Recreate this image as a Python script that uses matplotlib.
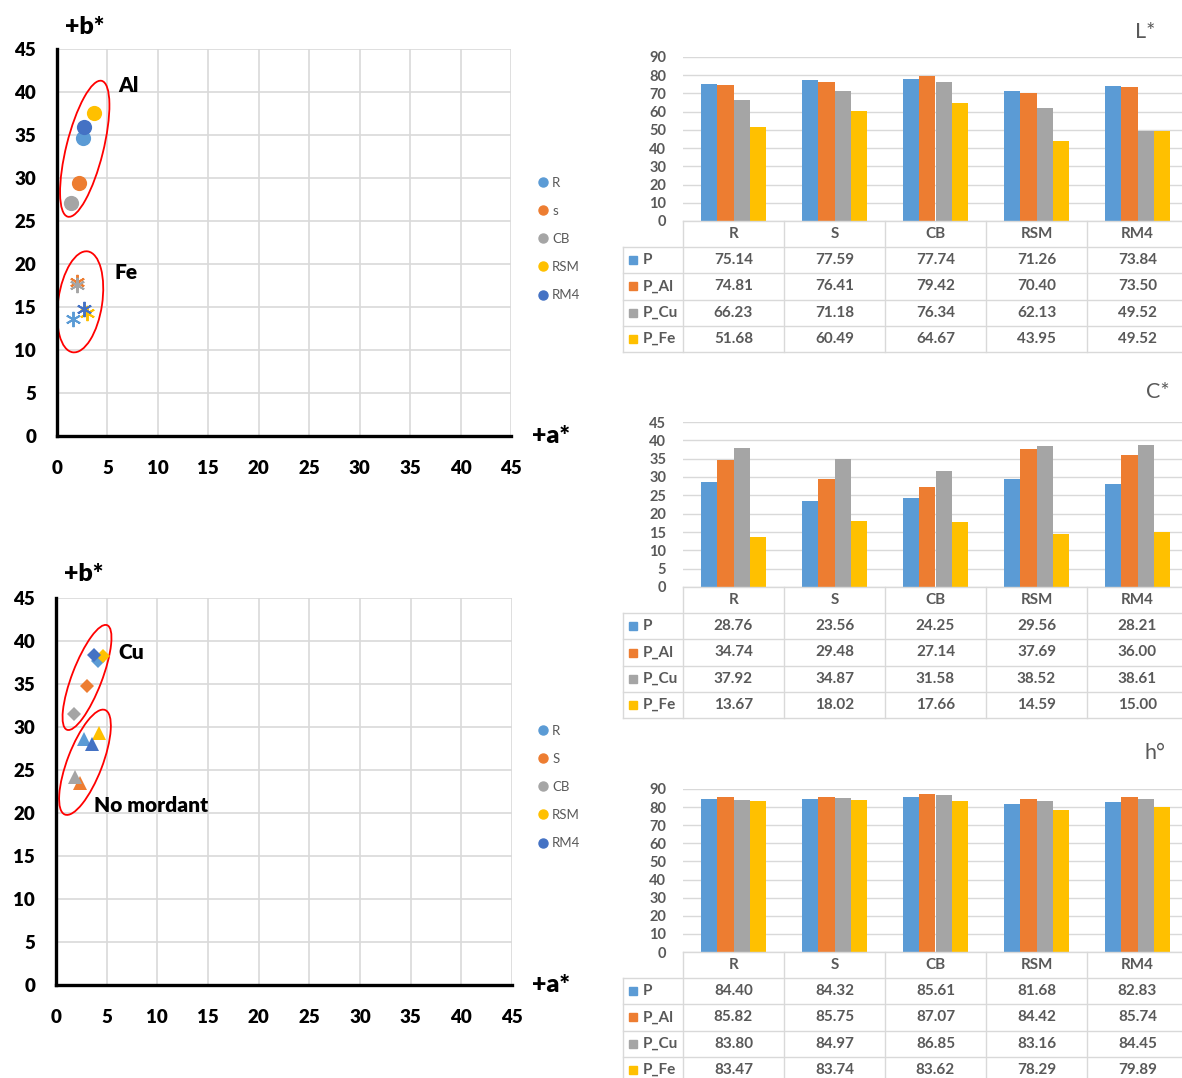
import numpy as np
import matplotlib
matplotlib.use("Agg")
import matplotlib.pyplot as plt
from matplotlib.patches import Ellipse
from matplotlib.lines import Line2D
from matplotlib.transforms import ScaledTranslation

plt.rcParams['font.family'] = ['Lato', 'DejaVu Sans']

# ---------------- data ----------------
samples = ["R", "S", "CB", "RSM", "RM4"]
legend_top = ["R", "s", "CB", "RSM", "RM4"]
legend_bottom = ["R", "S", "CB", "RSM", "RM4"]
treatments = ["P", "P_Al", "P_Cu", "P_Fe"]

# L* lightness
L_P = [75.14, 77.59, 77.74, 71.26, 73.84]
L_Al = [74.81, 76.41, 79.42, 70.40, 73.50]
L_Cu = [66.23, 71.18, 76.34, 62.13, 49.52]
L_Fe = [51.68, 60.49, 64.67, 43.95, 49.52]

# C* chroma
C_P = [28.76, 23.56, 24.25, 29.56, 28.21]
C_Al = [34.74, 29.48, 27.14, 37.69, 36.00]
C_Cu = [37.92, 34.87, 31.58, 38.52, 38.61]
C_Fe = [13.67, 18.02, 17.66, 14.59, 15.00]

# h° hue angle
H_P = [84.40, 84.32, 85.61, 81.68, 82.83]
H_Al = [85.82, 85.75, 87.07, 84.42, 85.74]
H_Cu = [83.80, 84.97, 86.85, 83.16, 84.45]
H_Fe = [83.47, 83.74, 83.62, 78.29, 79.89]

# a*, b* coordinates
a_P = [2.81, 2.33, 1.86, 4.28, 3.52]
b_P = [28.62, 23.44, 24.18, 29.25, 27.99]
a_Al = [2.53, 2.18, 1.39, 3.66, 2.67]
b_Al = [34.65, 29.40, 27.10, 37.51, 35.90]
a_Cu = [4.10, 3.06, 1.74, 4.59, 3.73]
b_Cu = [37.70, 34.74, 31.53, 38.25, 38.43]
a_Fe = [1.55, 1.96, 1.96, 2.96, 2.63]
b_Fe = [13.58, 17.91, 17.55, 14.29, 14.77]

sample_colors = ["#5B9BD5", "#ED7D31", "#A5A5A5", "#FFC000", "#4472C4"]
bar_colors = ["#5B9BD5", "#ED7D31", "#A5A5A5", "#FFC000"]
GRID = "#D9D9D9"
TXT = "#595959"
HEAVY = "heavy"

W, H = 1182, 1078
fig = plt.figure(figsize=(W / 100, H / 100), dpi=100)


def px_rect(x0, y_top, x1, y_bot):
    return [x0 / W, 1 - y_bot / H, (x1 - x0) / W, (y_bot - y_top) / H]


# ---------------- a*/b* scatter panels ----------------
def lab_axes(rect):
    ax = fig.add_axes(rect)
    ax.set_xlim(0, 45)
    ax.set_ylim(0, 45)
    ax.set_xticks(range(0, 46, 5))
    ax.set_yticks(range(0, 46, 5))
    ax.grid(True, color=GRID, linewidth=1.2)
    ax.set_axisbelow(True)
    for s in ("top", "right"):
        ax.spines[s].set_visible(False)
    for s in ("left", "bottom"):
        ax.spines[s].set_linewidth(2.4)
        ax.spines[s].set_color("black")
    ax.tick_params(axis="x", length=0, labelsize=13.5, pad=17)
    ax.tick_params(axis="y", length=0, labelsize=13.5, pad=15)
    for lbl in ax.get_xticklabels() + ax.get_yticklabels():
        lbl.set_fontweight(HEAVY)
    return ax


def ring(ax, cx, cy, w_px, h_px, angle):
    tr = fig.dpi_scale_trans + ScaledTranslation(cx, cy, ax.transData)
    e = Ellipse((0, 0), w_px / 100, h_px / 100, angle=angle, transform=tr,
                fill=False, edgecolor="#FF0000", linewidth=1.3, clip_on=False)
    ax.add_patch(e)


def sample_legend(labels, x_px, yc_px):
    handles = [Line2D([], [], linestyle="none", marker="o", markersize=6.5,
                      markerfacecolor=c, markeredgecolor=c)
               for c in sample_colors]
    fig.legend(handles, labels, loc="center left",
               bbox_to_anchor=(x_px / W, 1 - yc_px / H), frameon=False,
               fontsize=9.5, labelcolor=TXT, handlelength=0.7,
               handletextpad=0.35, labelspacing=1.22, borderaxespad=0)


def big_label(ax, x, y, s):
    ax.text(x, y, s, fontsize=15, fontweight=HEAVY, ha="center", va="center")


# top: Al and Fe mordants
ax1 = lab_axes(px_rect(57, 49, 511, 436))
for i in range(5):
    ax1.scatter(a_Al[i], b_Al[i], s=120, marker="o", color=sample_colors[i],
                linewidths=0, zorder=3)
for i in range(5):
    ax1.plot(a_Fe[i], b_Fe[i], linestyle="none", marker=(6, 2, 0),
             markersize=11, markeredgewidth=1.4, color=sample_colors[i],
             zorder=3)
ring(ax1, 2.75, 33.4, 140, 37, 76)
ring(ax1, 2.3, 15.6, 102, 44, 81.5)
big_label(ax1, 7.1, 40.7, "Al")
big_label(ax1, 6.8, 19.0, "Fe")
fig.text(85 / W, 1 - 27 / H, "+b*", fontsize=18, fontweight=HEAVY, ha="center", va="center")
fig.text(551 / W, 1 - 436 / H, "+a*", fontsize=18, fontweight=HEAVY, ha="center", va="center")
sample_legend(legend_top, 533, 239)

# bottom: Cu mordant and no mordant
ax2 = lab_axes(px_rect(56, 598, 512, 985))
for i in range(5):
    ax2.plot(a_P[i], b_P[i], linestyle="none", marker="^", markersize=10.5,
             color=sample_colors[i], markeredgewidth=0, zorder=3)
for i in range(5):
    ax2.plot(a_Cu[i], b_Cu[i], linestyle="none", marker="D", markersize=7.5,
             color=sample_colors[i], markeredgewidth=0, zorder=3)
ring(ax2, 3.06, 35.76, 112, 30, 69)
ring(ax2, 2.86, 25.9, 112, 35, 69)
big_label(ax2, 7.4, 38.7, "Cu")
big_label(ax2, 9.4, 20.9, "No mordant")
fig.text(84 / W, 1 - 574 / H, "+b*", fontsize=18, fontweight=HEAVY, ha="center", va="center")
fig.text(551 / W, 1 - 985 / H, "+a*", fontsize=18, fontweight=HEAVY, ha="center", va="center")
sample_legend(legend_bottom, 533, 787)


# ---------------- bar charts with data tables ----------------
X_LEFT, X_RIGHT, X_LABEL = 683, 1188, 623
ROW_H = 26.2


def bar_panel(y_top, y_zero, ymax, ystep, title, title_xy, rows):
    ax = fig.add_axes(px_rect(X_LEFT, y_top, X_RIGHT, y_zero))
    x = np.arange(len(samples))
    w = 0.16
    for i, vals in enumerate(rows):
        ax.bar(x + (i - 1.5) * w, vals, w, color=bar_colors[i], zorder=2)
    ax.set_xlim(-0.5, 4.5)
    ax.set_ylim(0, ymax)
    ax.set_yticks(np.arange(0, ymax + 0.1, ystep))
    ax.set_xticks([])
    ax.grid(True, axis="y", color=GRID, linewidth=1.0)
    ax.set_axisbelow(True)
    for s in ax.spines.values():
        s.set_visible(False)
    ax.tick_params(axis="y", length=0, labelsize=10.5, labelcolor=TXT, pad=12)
    for lbl in ax.get_yticklabels():
        lbl.set_fontweight("bold")
    fig.text(title_xy[0] / W, 1 - title_xy[1] / H, title, fontsize=15.5,
             color=TXT, ha="center", va="center")

    # data table under the bars
    left_u = -0.5 - (X_LEFT - X_LABEL) / ((X_RIGHT - X_LEFT) / 5)
    tb = fig.add_axes(px_rect(X_LABEL, y_zero, X_RIGHT, y_zero + 5 * ROW_H))
    tb.set_xlim(left_u, 4.5)
    tb.set_ylim(5, 0)
    tb.axis("off")
    lk = dict(color=GRID, linewidth=1.0, clip_on=False)
    tb.plot([-0.5, 4.5], [0, 0], **lk)
    for r in range(1, 6):
        tb.plot([left_u, 4.5], [r, r], **lk)
    for c in np.arange(-0.5, 4.6, 1.0):
        tb.plot([c, c], [0, 5], **lk)
    tb.plot([left_u, left_u], [1, 5], **lk)
    for j, name in enumerate(samples):
        tb.text(j, 0.5, name, ha="center", va="center", fontsize=11,
                fontweight="bold", color=TXT)
    for r, (name, vals) in enumerate(zip(treatments, rows)):
        yy = r + 1.5
        tb.plot(left_u + 0.095, yy, marker="s", markersize=6,
                color=bar_colors[r], linestyle="none", clip_on=False)
        tb.text(left_u + 0.2, yy, name, ha="left", va="center", fontsize=11,
                fontweight="bold", color=TXT)
        for j, v in enumerate(vals):
            tb.text(j, yy, f"{v:.2f}", ha="center", va="center",
                    fontsize=11, fontweight="bold", color=TXT)
    return ax


bar_panel(57, 221, 90, 10, "L*", (1145, 32), [L_P, L_Al, L_Cu, L_Fe])
bar_panel(422, 587, 45, 5, "C*", (1158, 392), [C_P, C_Al, C_Cu, C_Fe])
bar_panel(789, 952, 90, 10, "h°", (1155, 753), [H_P, H_Al, H_Cu, H_Fe])

fig.savefig("out.png", dpi=100, facecolor="white")
